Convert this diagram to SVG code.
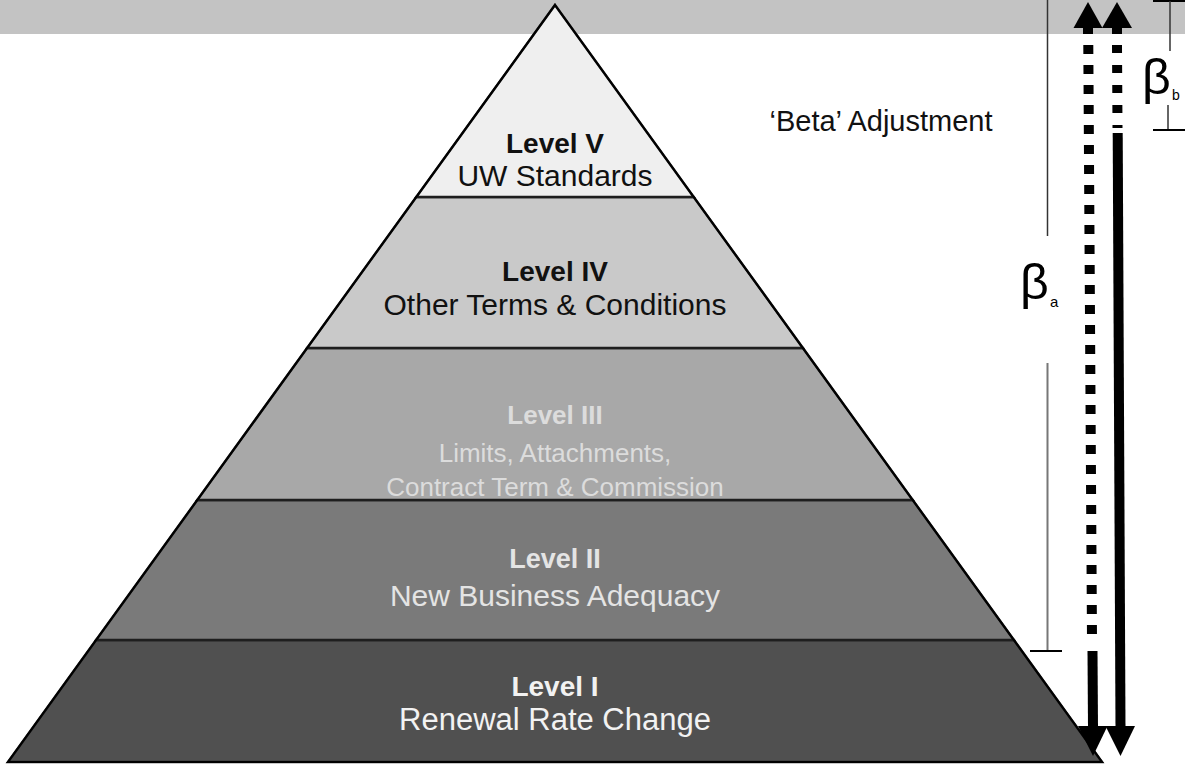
<svg xmlns="http://www.w3.org/2000/svg" width="1185" height="765" viewBox="0 0 1185 765">
  <style>
    .lbl { font-family: "Liberation Sans", Arial, sans-serif; font-size: 30px; text-anchor: middle; }
    .bold { font-weight: bold; font-size: 28px; }
    .small { font-size: 26px; }
    .dark { fill: #111; }
    .l3 { fill: #dcdcdc; }
    .l2 { fill: #e4e4e4; }
    .l1 { fill: #f2f2f2; }
    .tier { stroke: #1e1e1e; stroke-width: 2.5; }
    .greek { font-family: "Liberation Sans", Arial, sans-serif; fill: #000; }
  </style>

  <rect x="0" y="0" width="1185" height="765" fill="#ffffff"/>
  <!-- header band -->
  <rect x="0" y="0" width="1185" height="34" fill="#c3c3c3"/>

  <!-- pyramid tiers, bottom to top -->
  <g id="level-1">
    <polygon class="tier" points="96.1,640 1013.9,640 1102,762 8,762" fill="#505050"/>
    <text class="lbl bold l1" x="555" y="696">Level I</text>
    <text class="lbl l1" x="555" y="730" style="font-size:31px">Renewal Rate Change</text>
  </g>
  <g id="level-2">
    <polygon class="tier" points="197.3,500 912.7,500 1013.9,640 96.1,640" fill="#7a7a7a"/>
    <text class="lbl bold l2" x="555" y="568" style="font-size:27px">Level II</text>
    <text class="lbl l2" x="555" y="606">New Business Adequacy</text>
  </g>
  <g id="level-3">
    <polygon class="tier" points="307.1,348 802.9,348 912.7,500 197.3,500" fill="#a8a8a8"/>
    <text class="lbl bold small l3" x="555" y="424">Level III</text>
    <text class="lbl small l3" x="555" y="462">Limits, Attachments,</text>
    <text class="lbl small l3" x="555" y="496">Contract Term &amp; Commission</text>
  </g>
  <g id="level-4">
    <polygon class="tier" points="416.3,197 693.7,197 802.9,348 307.1,348" fill="#c9c9c9"/>
    <text class="lbl bold dark" x="555" y="281">Level IV</text>
    <text class="lbl dark" x="555" y="315">Other Terms &amp; Conditions</text>
  </g>
  <g id="level-5">
    <polygon class="tier" points="555,5 693.7,197 416.3,197" fill="#efefef"/>
    <text class="lbl bold dark" x="555" y="153">Level V</text>
    <text class="lbl dark" x="555" y="186">UW Standards</text>
  </g>
  <!-- outer outline -->
  <polygon points="555,5 1102,762 8,762" fill="none" stroke="#000" stroke-width="2"/>

  <g id="beta-adjustment">
    <text class="lbl dark" x="881" y="131" style="font-size:29px">‘Beta’ Adjustment</text>
  </g>

  <!-- connectors: span markers and adjustment arrows -->
  <g id="connectors">
    <!-- beta a span -->
    <line x1="1047.5" y1="0" x2="1047.5" y2="236" stroke="#333" stroke-width="1.5"/>
    <line x1="1047.5" y1="363" x2="1047.5" y2="651" stroke="#777" stroke-width="2"/>
    <line x1="1030" y1="651" x2="1062" y2="651" stroke="#000" stroke-width="2"/>
    <!-- beta b span -->
    <line x1="1153" y1="1" x2="1185" y2="1" stroke="#000" stroke-width="2"/>
    <line x1="1170" y1="1" x2="1170" y2="51" stroke="#333" stroke-width="1.5"/>
    <line x1="1168" y1="105" x2="1168" y2="130" stroke="#333" stroke-width="1.5"/>
    <line x1="1153" y1="130" x2="1185" y2="130" stroke="#000" stroke-width="2"/>

    <!-- left arrow: dotted span with heads at both ends -->
    <polygon points="1088,2 1102.5,28 1073.5,28" fill="#000"/>
    <line x1="1088" y1="27" x2="1088" y2="34" stroke="#000" stroke-width="10"/>
    <line x1="1088.3" y1="45" x2="1092" y2="640" stroke="#000" stroke-width="10" stroke-dasharray="9 11"/>
    <line x1="1092.5" y1="651" x2="1093" y2="728" stroke="#000" stroke-width="10"/>
    <polygon points="1078,726 1107.5,726 1093,756" fill="#000"/>

    <!-- right arrow -->
    <polygon points="1117,2 1132,28 1102,28" fill="#000"/>
    <line x1="1117" y1="27" x2="1117" y2="34" stroke="#000" stroke-width="10"/>
    <line x1="1117" y1="45" x2="1117.5" y2="128" stroke="#000" stroke-width="10" stroke-dasharray="8 12"/>
    <line x1="1117.7" y1="133" x2="1120.5" y2="728" stroke="#000" stroke-width="10"/>
    <polygon points="1105.5,726 1135,726 1120.5,756" fill="#000"/>
  </g>

  <g id="beta-labels">
    <text class="greek" x="1020" y="299" font-size="50">β</text>
    <text class="greek" x="1050" y="307" font-size="15">a</text>
    <text class="greek" x="1142" y="94" font-size="50">β</text>
    <text class="greek" x="1172" y="100" font-size="14">b</text>
  </g>

  <!-- page number at the lower edge -->
  <text x="1167" y="775" font-family="Liberation Sans, Arial, sans-serif" font-size="14" fill="#b0b0b0">15</text>
</svg>
